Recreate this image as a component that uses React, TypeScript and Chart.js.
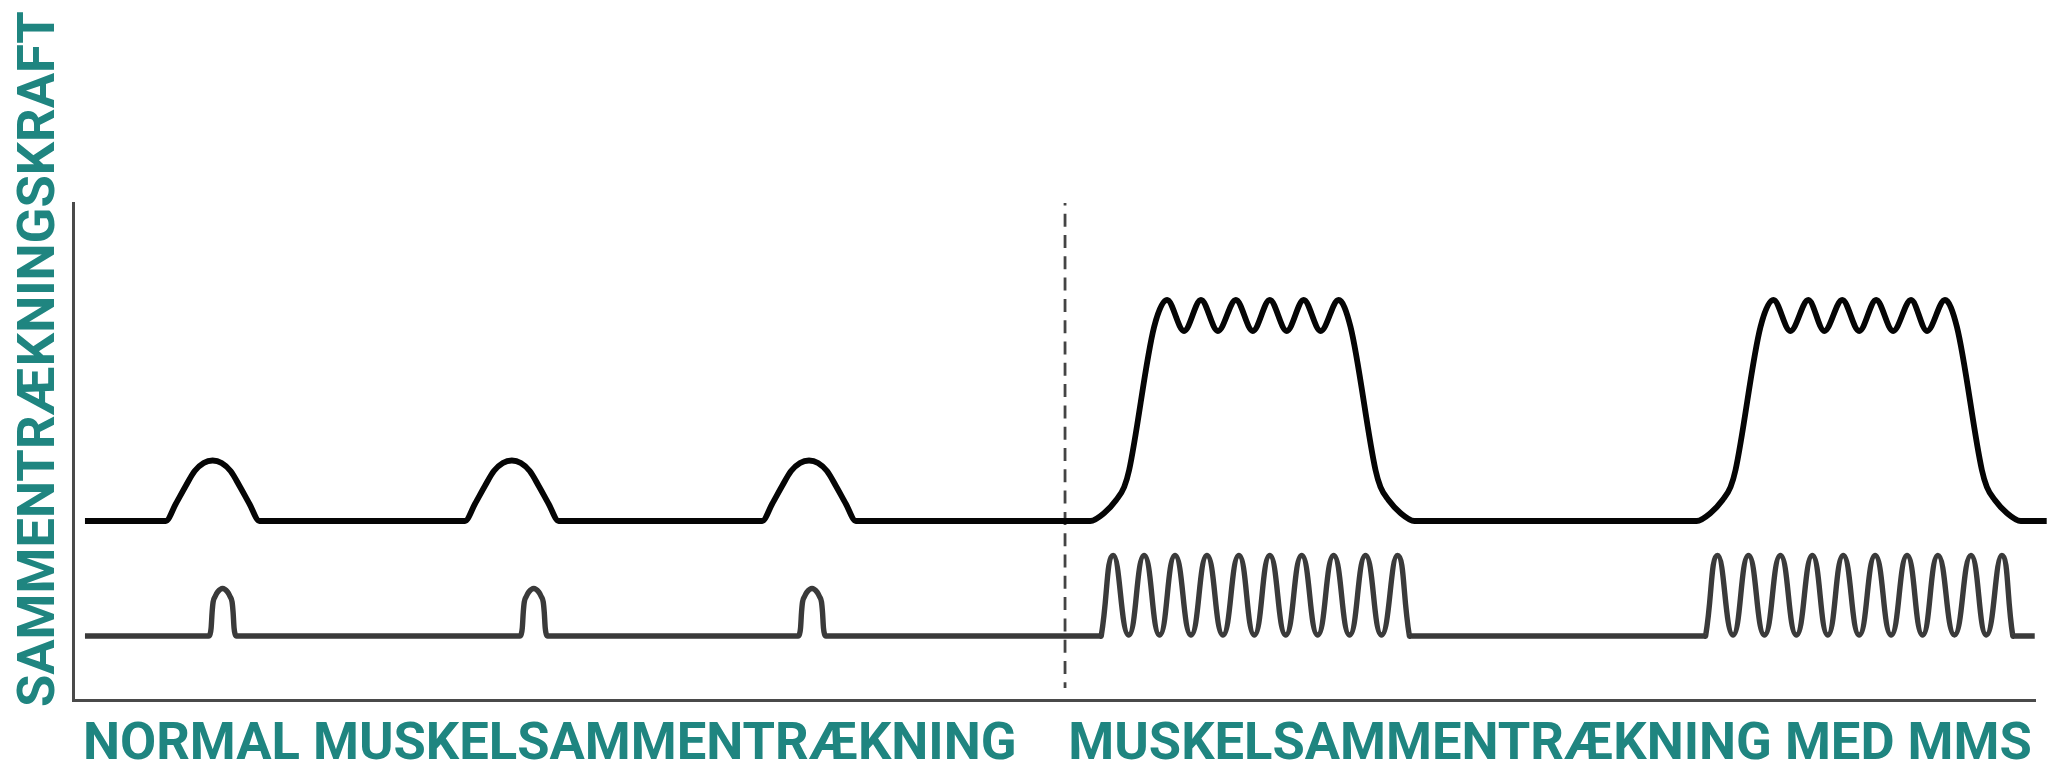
import React, { useEffect, useRef } from 'react';
import { Chart, registerables } from 'chart.js';

Chart.register(...registerables);

// Time axis (arbitrary ms-like units) and force axis (arbitrary units)
const TIME_MAX = 1968;
const FORCE_MAX = 497;

const Y_TITLE = 'SAMMENTRÆKNINGSKRAFT';
const PHASE_LABELS = ['NORMAL MUSKELSAMMENTRÆKNING', 'MUSKELSAMMENTRÆKNING MED MMS'];
const PHASE_CENTERS = [478, 1481];

// Upper trace: contraction force
const FORCE_T = [
  12,
  93, 103, 113, 122, 131, 140, 149, 158, 167, 177, 187,
  393, 403, 413, 422, 431, 440, 449, 458, 467, 477, 487,
  691, 701, 711, 720, 729, 738, 747, 756, 765, 775, 785,
  1020, 1034, 1046, 1054, 1059, 1084, 1097, 1114, 1131, 1148, 1166, 1183, 1200, 1217, 1234, 1251, 1269, 1281, 1306, 1311, 1319, 1331, 1345,
  1628, 1642, 1654, 1662, 1667, 1692, 1705, 1722, 1740, 1756, 1774, 1791, 1808, 1825, 1843, 1859, 1877, 1889, 1914, 1919, 1927, 1939, 1953,
  1979,
];
const FORCE_Y = [
  179,
  179, 196, 214, 229, 237, 239.5, 237, 229, 214, 196, 179,
  179, 196, 214, 229, 237, 239.5, 237, 229, 214, 196, 179,
  179, 196, 214, 229, 237, 239.5, 237, 229, 214, 196, 179,
  179, 187, 200, 213, 230, 373, 400, 369, 400, 369, 400, 369, 400, 369, 400, 369, 400, 373, 230, 213, 200, 187, 179,
  179, 187, 200, 213, 230, 373, 400, 369, 400, 369, 400, 369, 400, 369, 400, 369, 400, 373, 230, 213, 200, 187, 179,
  179,
];

// Lower trace, first part: nerve signal with single impulses (normal)
const SIGNAL_T = [
  12,
  136, 137.5, 138.5, 139.5, 140.5, 142.5, 145, 150, 155, 157.5, 159.5, 160.5, 161.5, 162.5, 164,
  448, 449.5, 450.5, 451.5, 452.5, 454.5, 457, 462, 467, 469.5, 471.5, 472.5, 473.5, 474.5, 476,
  727, 728.5, 729.5, 730.5, 731.5, 733.5, 736, 741, 746, 748.5, 750.5, 751.5, 752.5, 753.5, 755,
  1031,
];
const SIGNAL_V = [
  64,
  64, 66, 72, 88, 98, 103.5, 108, 111.5, 108, 103.5, 98, 88, 72, 66, 64,
  64, 66, 72, 88, 98, 103.5, 108, 111.5, 108, 103.5, 98, 88, 72, 66, 64,
  64, 66, 72, 88, 98, 103.5, 108, 111.5, 108, 103.5, 98, 88, 72, 66, 64,
  64,
];

// Lower trace, second part: impulse trains (MMS)
const BURST_T = [
  1029.5, 1031,
  1043, 1058.5, 1074, 1089.5, 1105, 1121, 1137, 1153, 1169, 1184.5, 1200, 1216, 1232, 1248, 1264, 1280, 1296, 1312, 1328,
  1340, 1341.5, 1635.5, 1637,
  1649, 1664.5, 1680, 1696, 1712, 1728, 1744, 1759.5, 1775, 1791, 1807, 1823, 1839, 1854.5, 1870, 1886.5, 1903, 1918.5, 1934,
  1945, 1946.5, 1967,
];
const BURST_V = [
  64, 64,
  144.5, 65, 144.5, 65, 144.5, 65, 144.5, 65, 144.5, 65, 144.5, 65, 144.5, 65, 144.5, 65, 144.5, 65, 144.5,
  64, 64, 64, 64,
  144.5, 65, 144.5, 65, 144.5, 65, 144.5, 65, 144.5, 65, 144.5, 65, 144.5, 65, 144.5, 65, 144.5, 65, 144.5,
  64, 64, 64,
];

// Divider between the two phases
const DIVIDER_T = [994.7, 994.7];
const DIVIDER_V = [497, 12];

const TEAL = '#1f8580';
const AXIS_COLOR = '#4a4a4a';
const SIGNAL_COLOR = '#3a3a3a';
const FONT_SIZE = 52.5;
const LABEL_FONT = { family: 'Roboto', weight: 'bold' as const, size: FONT_SIZE };

const zip = (xs: number[], ys: number[]) => xs.map((x, i) => ({ x, y: ys[i] }));

// Vertical axis title, drawn from just below the axis foot upward
const yTitlePlugin = {
  id: 'yTitle',
  afterDraw(chart: any) {
    const { ctx, chartArea } = chart;
    ctx.save();
    ctx.translate(41, chartArea.bottom + 7);
    ctx.rotate(-Math.PI / 2);
    ctx.font = `bold ${FONT_SIZE}px Roboto`;
    ctx.fillStyle = TEAL;
    ctx.textAlign = 'left';
    ctx.textBaseline = 'middle';
    ctx.fillText(Y_TITLE, 0, 0);
    ctx.restore();
  },
};

export default function App() {
  const ref = useRef<HTMLCanvasElement>(null);

  useEffect(() => {
    const canvas = ref.current;
    if (!canvas) return;
    const lineBase = {
      pointRadius: 0,
      borderCapStyle: 'butt' as const,
      borderJoinStyle: 'round' as const,
      clip: false as any,
    };
    const chart = new Chart(canvas, {
      type: 'line',
      data: {
        datasets: [
          {
            ...lineBase,
            label: 'Kraft',
            data: zip(FORCE_T, FORCE_Y),
            borderColor: '#050505',
            borderWidth: 5.8,
            cubicInterpolationMode: 'monotone',
          },
          {
            ...lineBase,
            label: 'Signal',
            data: zip(SIGNAL_T, SIGNAL_V),
            borderColor: SIGNAL_COLOR,
            borderWidth: 5.4,
            cubicInterpolationMode: 'monotone',
          },
          {
            ...lineBase,
            label: 'Signal MMS',
            data: zip(BURST_T, BURST_V),
            borderColor: SIGNAL_COLOR,
            borderWidth: 5.4,
            tension: 0.5,
          },
          {
            label: 'Skel',
            data: zip(DIVIDER_T, DIVIDER_V),
            borderColor: '#444444',
            borderWidth: 2.8,
            borderDash: [13, 8.3],
            borderDashOffset: 10.6,
            pointRadius: 0,
            tension: 0,
          },
        ],
      },
      options: {
        responsive: false,
        animation: false,
        events: [],
        layout: {
          padding: { top: 203, right: 25, bottom: -32, left: 73 },
          autoPadding: false,
        },
        plugins: {
          legend: { display: false },
          tooltip: { enabled: false },
        },
        scales: {
          x: {
            type: 'linear',
            min: 0,
            max: TIME_MAX,
            grid: { display: false, drawTicks: false },
            border: { display: true, color: AXIS_COLOR, width: 3 },
            afterBuildTicks: (scale: any) => {
              scale.ticks = PHASE_CENTERS.map((v) => ({ value: v }));
            },
            ticks: {
              callback: (_v: any, i: number) => PHASE_LABELS[i],
              autoSkip: false,
              maxRotation: 0,
              minRotation: 0,
              padding: 28,
              color: TEAL,
              font: { ...LABEL_FONT, lineHeight: 36 / FONT_SIZE },
            },
          },
          y: {
            type: 'linear',
            min: 0,
            max: FORCE_MAX,
            grid: { display: false, drawTicks: false },
            border: { display: true, color: AXIS_COLOR, width: 3 },
            ticks: { display: false },
            title: { display: false, text: Y_TITLE },
          },
        },
      },
      plugins: [yTitlePlugin],
    });
    return () => chart.destroy();
  }, []);

  return (
    <div style={{ position: 'absolute', left: 0, top: 0, width: 2066, height: 760 }}>
      <canvas ref={ref} width={2066} height={760} style={{ display: 'block', width: 2066, height: 760 }} />
    </div>
  );
}
